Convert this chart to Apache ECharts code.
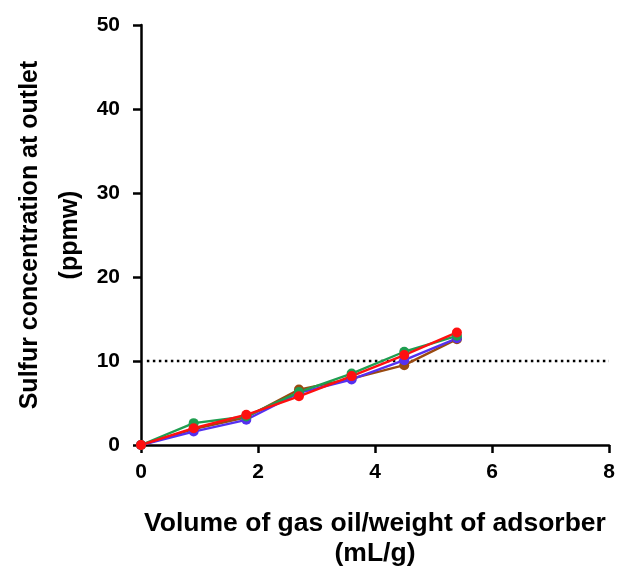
<!DOCTYPE html>
<html><head><meta charset="utf-8">
<script src="https://cdn.jsdelivr.net/npm/echarts@6/dist/echarts.min.js"></script>
<style>html,body{margin:0;padding:0;background:#fff}#c{width:627px;height:570px}</style>
</head><body><div id="c"></div>
<script>
var xValues = [0, 0.9, 1.8, 2.7, 3.6, 4.5, 5.4];
var brownValues = [0, 1.9, 3.3, 6.6, 7.9, 9.5, 12.6];
var blueValues = [0, 1.6, 3.0, 6.2, 7.8, 10.1, 12.7];
var greenValues = [0, 2.6, 3.4, 6.3, 8.5, 11.1, 13.0];
var redValues = [0, 2.0, 3.6, 5.8, 8.2, 10.7, 13.4];
var thresholdX = [0.1, 8];
var thresholdY = 10;
var xTicks = [0, 2, 4, 6, 8];
var yTicks = [0, 10, 20, 30, 40, 50];

function pts(v){ return xValues.map(function(x,i){ return [x, v[i]]; }); }
function ser(name, color, vals){
  return {name:name, type:'line', data:pts(vals), symbol:'circle', symbolSize:10,
    lineStyle:{color:color, width:2.4}, itemStyle:{color:color}, z:3};
}
var chart = echarts.init(document.getElementById('c'));
var font = 'Liberation Sans, Arial, sans-serif';
chart.setOption({
  animation:false,
  grid:{left:141, right:18, top:25, bottom:125, containLabel:false, outerBoundsMode:'none'},
  xAxis:{type:'value', min:0, max:8, interval:2,
    name:'Volume of gas oil/weight of adsorber\n(mL/g)', nameLocation:'middle', nameGap:64,
    nameMoveOverlap:false,
    nameTextStyle:{fontFamily:font, fontWeight:'bold', fontSize:26.5, color:'#000', lineHeight:30},
    axisLine:{lineStyle:{color:'#000', width:2.5}},
    axisTick:{show:true, length:8, lineStyle:{color:'#000', width:2.5}},
    axisLabel:{fontFamily:font, fontWeight:'bold', fontSize:21, color:'#000', margin:17,
      formatter:function(v){ return xTicks.indexOf(v)>=0 ? String(v) : ''; }},
    splitLine:{show:false}},
  yAxis:{type:'value', min:0, max:50, interval:10,
    name:'Sulfur concentration at outlet\n(ppmw)', nameLocation:'middle', nameGap:51,
    nameMoveOverlap:false,
    nameTextStyle:{fontFamily:font, fontWeight:'bold', fontSize:25, color:'#000', lineHeight:40},
    axisLine:{show:true, lineStyle:{color:'#000', width:2.5}},
    axisTick:{show:true, length:8, lineStyle:{color:'#000', width:2.5}},
    axisLabel:{fontFamily:font, fontWeight:'bold', fontSize:21, color:'#000', margin:21,
      formatter:function(v){ return yTicks.indexOf(v)>=0 ? String(v) : ''; }},
    splitLine:{show:false}},
  series:[
    {type:'line', data:[[thresholdX[0],thresholdY],[thresholdX[1],thresholdY]], symbol:'none',
      lineStyle:{color:'#000', width:2.5, type:[2.5,3.5]}, z:2},
    ser('brown','#9a4a10',brownValues),
    ser('blue','#5530f0',blueValues),
    ser('green','#1f9e50',greenValues),
    ser('red','#ff1010',redValues)
  ]
});
</script></body></html>
